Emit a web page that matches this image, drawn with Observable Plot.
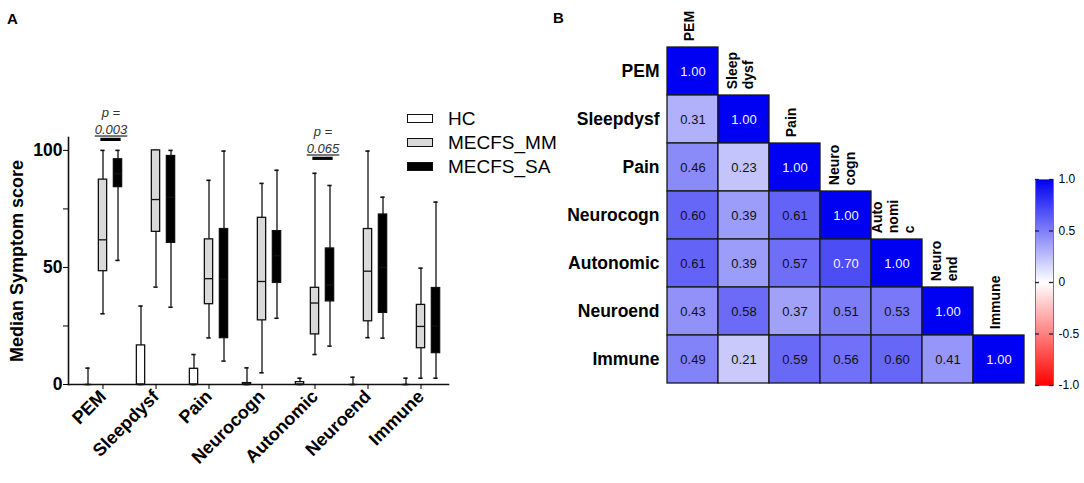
<!DOCTYPE html>
<html>
<head>
<meta charset="utf-8">
<script src="https://cdn.jsdelivr.net/npm/d3@7"></script>
<script src="https://cdn.jsdelivr.net/npm/@observablehq/plot@0.6"></script>
<style>
  html, body { margin: 0; padding: 0; background: #fff; }
  #root { position: relative; width: 1084px; height: 483px; background: #fff; overflow: hidden;
          font-family: "Liberation Sans", Arial, sans-serif; color: #000; }
  #root svg { position: absolute; left: 0; top: 0; }
  .panel { position: absolute; font-weight: bold; font-size: 15px; line-height: 1; }
  .ytitle { position: absolute; left: 17px; top: 261px; transform: translate(-50%, -50%) rotate(-90deg);
            white-space: nowrap; font-weight: bold; font-size: 18px; line-height: 1; }
  .legend { position: absolute; left: 407px; top: 106px; }
  .legend .row { display: flex; align-items: center; height: 24px; }
  .legend .sw { width: 24px; height: 7px; border: 1px solid #111; margin-right: 15px; }
  .legend .tx { font-size: 19px; line-height: 1; }
</style>
</head>
<body>
<div id="root">
  <div class="panel" style="left:7px;top:11px">A</div>
  <div class="panel" style="left:553px;top:10px">B</div>
  <div class="ytitle">Median Symptom score</div>
  <div class="legend" id="legend"></div>
</div>
<script>
// ---------- Panel A data ----------
const categories = ["PEM", "Sleepdysf", "Pain", "Neurocogn", "Autonomic", "Neuroend", "Immune"];
const groups = ["HC", "MECFS_MM", "MECFS_SA"];
// [min, q1, median, q3, max] per category
const hcStats = [[0,0,0,0,7],[0,0,0,16.7,33.5],[0,0,0,6.7,12.8],[0,0,0,0.6,7.1],[0,0,0,1,2.7],[0,0,0,0,3.1],[0,0,0,0,2.7]];
const mmStats = [[30.2,48.4,61.8,87.5,100],[41.6,65.2,79,100,100],[19.9,34.3,45.2,62,87.2],[5,27.4,44,71.2,85.9],[12.8,21.4,34.8,41.3,90.2],[20,27,48.4,66.4,99.7],[2.7,15.5,24.8,34,49.7]];
const saStats = [[53,84.3,90,96.2,100],[33,60.5,80,97.6,100],[10,19.8,45,66.4,99.7],[28.3,43.4,55,65.5,91.5],[16.4,35.5,42.5,58.1,85],[19.8,30.6,50,72.6,80],[2.7,13.4,25,41.2,77.9]];
const pCategories = ["PEM", "Autonomic"];
const pLabels = ["p =\n0.003", "p =\n0.065"];
const pBarValues = [104.7, 96.6];
const yTicksA = [0, 25, 50, 75, 100];

// ---------- Panel B data ----------
const symptoms = ["PEM", "Sleepdysf", "Pain", "Neurocogn", "Autonomic", "Neuroend", "Immune"];
const colLabels = ["PEM", "Sleep\ndysf", "Pain", "Neuro\ncogn", "Auto\nnomi\nc", "Neuro\nend", "Immune"];
const corrRows = [
  [1.00],
  [0.31, 1.00],
  [0.46, 0.23, 1.00],
  [0.60, 0.39, 0.61, 1.00],
  [0.61, 0.39, 0.57, 0.70, 1.00],
  [0.43, 0.58, 0.37, 0.51, 0.53, 1.00],
  [0.49, 0.21, 0.59, 0.56, 0.60, 0.41, 1.00]
];
const colorbarTicks = [-1, -0.5, 0, 0.5, 1];

// ---------- styles ----------
const groupFill = {HC: "#ffffff", MECFS_MM: "#d9d9d9", MECFS_SA: "#000000"};
const groupDx = {HC: -15, MECFS_MM: 0, MECFS_SA: 15};
const FONT = "'Liberation Sans', Arial, sans-serif";
const root = document.getElementById("root");

// legend (HTML)
const legend = document.getElementById("legend");
groups.forEach(g => {
  const row = document.createElement("div");
  row.className = "row";
  row.innerHTML = `<div class="sw" style="background:${groupFill[g]}"></div><div class="tx">${g}</div>`;
  legend.appendChild(row);
});

// ---------- Panel A ----------
const statsByGroup = {HC: hcStats, MECFS_MM: mmStats, MECFS_SA: saStats};
const boxData = categories.flatMap((c, i) => groups.map(g => {
  const s = statsByGroup[g][i];
  return {category: c, group: g, min: s[0], q1: s[1], med: s[2], q3: s[3], max: s[4]};
}));
const pData = pCategories.map((c, i) => ({category: c, label: pLabels[i], y: pBarValues[i]}));

const boxW = 9, capW = 5;
const step = (449 - 73) / categories.length;
const boxInset = (step - boxW) / 2, capInset = (step - capW) / 2;

const boxMarks = groups.flatMap(g => {
  const sub = boxData.filter(d => d.group === g);
  const dx = groupDx[g];
  return [
    Plot.ruleX(sub, {x: "category", y1: "q3", y2: "max", dx, stroke: "#111", strokeWidth: 1.3}),
    Plot.ruleX(sub, {x: "category", y1: "min", y2: "q1", dx, stroke: "#111", strokeWidth: 1.3}),
    Plot.tickY(sub, {x: "category", y: "max", dx, insetLeft: capInset, insetRight: capInset, stroke: "#111", strokeWidth: 1.6}),
    Plot.tickY(sub, {x: "category", y: "min", dx, insetLeft: capInset, insetRight: capInset, stroke: "#111", strokeWidth: 1.6}),
    Plot.barY(sub, {x: "category", y1: "q1", y2: "q3", dx, insetLeft: boxInset, insetRight: boxInset, fill: groupFill[g], stroke: "#111", strokeWidth: 1.3}),
    Plot.tickY(sub, {x: "category", y: "med", dx, insetLeft: boxInset, insetRight: boxInset, stroke: "#111", strokeWidth: 1.3})
  ];
});

const plotA = Plot.plot({
  width: 1084, height: 483,
  marginLeft: 68, marginRight: 1084 - 448, marginTop: 137, marginBottom: 99,
  style: {background: "transparent", fontFamily: FONT, color: "#000", overflow: "visible"},
  x: {domain: categories, range: [73, 449], padding: 0},
  y: {domain: [0, 105.5]},
  marks: [
    ...boxMarks,
    Plot.tickY(pData, {x: "category", y: "y", dx: 8, insetLeft: (step - 21) / 2, insetRight: (step - 21) / 2, stroke: "#000", strokeWidth: 3.2}),
    Plot.text(pData, {x: "category", y: "y", text: "label", dx: 8, dy: -5, lineAnchor: "bottom", lineHeight: 1.35,
                      fontStyle: "italic", fontSize: 13, fill: "#333"}),
    Plot.frame({anchor: "left", stroke: "#111", strokeWidth: 1.6}),
    Plot.frame({anchor: "bottom", stroke: "#111", strokeWidth: 1.6}),
    Plot.axisY({ticks: yTicksA, tickFormat: d => d % 50 === 0 ? String(d) : "", tickSize: 5, tickPadding: 1,
                fontSize: 17, fontWeight: "bold", label: null}),
    Plot.axisX({tickRotate: -45, tickSize: 5, tickPadding: 4, fontSize: 18, fontWeight: "bold", label: null})
  ]
});
root.appendChild(plotA);
// enforce tick label fonts
d3.select(plotA).selectAll('g[aria-label="y-axis tick label"]').attr("font-size", 17.5).attr("font-weight", "bold");
d3.select(plotA).selectAll('g[aria-label="x-axis tick label"]').attr("font-size", 18).attr("font-weight", "bold");
// underline p-value numbers
d3.select(plotA).selectAll("tspan").filter(function() { return /^0\.0\d\d$/.test(this.textContent); })
  .style("text-decoration", "underline");

// ---------- Panel B heatmap ----------
const cellData = corrRows.flatMap((row, i) => row.map((v, j) => ({row: symptoms[i], col: symptoms[j], value: v})));
const colLabelData = symptoms.map((s, i) => ({col: s, label: colLabels[i]}));
const colorScale = {type: "linear", domain: [-1, 0, 1], range: ["#ff0000", "#ffffff", "#0000f2"]};
const rowH = (385 - 45) / symptoms.length;

const plotB = Plot.plot({
  width: 1084, height: 483,
  marginLeft: 666, marginRight: 1084 - 1025, marginTop: 45, marginBottom: 483 - 385,
  style: {background: "transparent", fontFamily: FONT, color: "#000", overflow: "visible"},
  x: {domain: symptoms, padding: 0, axis: null},
  y: {domain: symptoms, padding: 0},
  color: colorScale,
  marks: [
    Plot.cell(cellData, {x: "col", y: "row", fill: "value", stroke: "#1a1a1a", strokeWidth: 1.3}),
    Plot.text(cellData, {filter: d => d.value >= 0.7, x: "col", y: "row", text: d => d.value.toFixed(2), fill: "#f4f4ff", fontSize: 13}),
    Plot.text(cellData, {filter: d => d.value < 0.7, x: "col", y: "row", text: d => d.value.toFixed(2), fill: "#111", fontSize: 13}),
    Plot.text(colLabelData, {x: "col", y: "col", text: "label", rotate: -90, textAnchor: "start", dx: -4, dy: -(rowH / 2 + 6),
                             fontWeight: "bold", fontSize: 14, lineHeight: 1.15, fill: "#000"}),
    Plot.axisY({tickSize: 0, tickPadding: 7, fontSize: 17.5, fontWeight: "bold", label: null})
  ]
});
root.appendChild(plotB);

// ---------- Panel B colour bar ----------
const plotC = Plot.plot({
  width: 1084, height: 483,
  marginLeft: 1035, marginRight: 1084 - 1053, marginTop: 179, marginBottom: 483 - 385,
  style: {background: "transparent", fontFamily: FONT, color: "#000", overflow: "visible"},
  x: {domain: [0, 1], axis: null},
  y: {domain: [-1, 1], axis: null},
  color: colorScale,
  marks: [
    Plot.raster({x1: 0, x2: 1, y1: -1, y2: 1, width: 2, height: 206, fill: (x, y) => y}),
    Plot.frame({stroke: "#777", strokeWidth: 1}),
    Plot.ruleY(colorbarTicks, {x1: 0, x2: 0.22, stroke: "#1a1a4a", strokeWidth: 1.3}),
    Plot.ruleY(colorbarTicks, {x1: 0.78, x2: 1, stroke: "#1a1a4a", strokeWidth: 1.3}),
    Plot.axisY({anchor: "right", ticks: colorbarTicks, tickSize: 0, tickPadding: 5,
                tickFormat: d => d === 0 ? "0" : d.toFixed(1), fontSize: 12, label: null})
  ]
});
root.appendChild(plotC);
</script>
</body>
</html>
